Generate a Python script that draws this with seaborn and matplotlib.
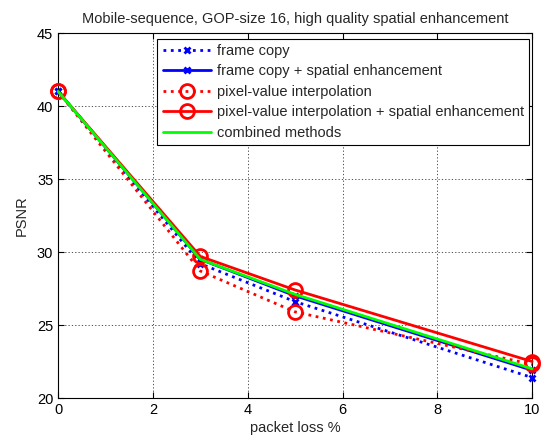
import numpy as np
import pandas as pd
import matplotlib
matplotlib.use('Agg')
import matplotlib.pyplot as plt
import seaborn as sns

sns.set_style('white')
plt.rcParams['font.family'] = ['Liberation Sans', 'DejaVu Sans']

# packet loss levels
packet_loss = [0, 3, 5, 10]

# PSNR per method
frame_copy = [41.0, 29.2, 26.6, 21.4]
frame_copy_se = [41.0, 29.5, 27.0, 21.9]
pixel_interp = [41.0, 28.7, 25.9, 22.3]
pixel_interp_se = [41.0, 29.7, 27.4, 22.5]
combined = [41.0, 29.5, 27.1, 22.0]

labels = ['frame copy', 'frame copy + spatial enhancement',
          'pixel-value interpolation',
          'pixel-value interpolation + spatial enhancement',
          'combined methods']
series = [frame_copy, frame_copy_se, pixel_interp, pixel_interp_se, combined]
styles = [
    dict(color='#0000ff', linestyle=':', marker='x', markersize=5, mew=2),
    dict(color='#0000ff', linestyle='-', marker='x', markersize=5, mew=2),
    dict(color='#ff0000', linestyle=':', marker='o', markersize=10, mew=2,
         markerfacecolor='none'),
    dict(color='#ff0000', linestyle='-', marker='o', markersize=10, mew=2,
         markerfacecolor='none'),
    dict(color='#00ff00', linestyle='-'),
]

fig = plt.figure(figsize=(5.48, 4.41), dpi=100)
ax = fig.add_axes([0.106, 0.0975, 0.865, 0.8275])

for lab, vals, st in zip(labels, series, styles):
    df = pd.DataFrame({'loss': packet_loss, 'psnr': vals})
    sns.lineplot(data=df, x='loss', y='psnr', ax=ax, label=lab,
                 linewidth=2, markeredgecolor=st['color'], clip_on=False,
                 zorder=3, **st)

ax.set_xlim(0, 10)
ax.set_ylim(20, 45)
ax.set_xticks([0, 2, 4, 6, 8, 10])
ax.set_yticks([20, 25, 30, 35, 40, 45])
ax.grid(True, color='#333333', linestyle=(0, (1.5, 2.5)), linewidth=0.6)
for s in ax.spines.values():
    s.set_color('black')
    s.set_linewidth(0.8)
ax.tick_params(direction='in', length=4, labelsize=10.5, colors='black',
               top=True, right=True, bottom=True, left=True)
ax.set_xlabel('packet loss %', fontsize=10.5, labelpad=3)
ax.set_ylabel('PSNR', fontsize=10.5, labelpad=6)
ax.set_title('Mobile-sequence, GOP-size 16, high quality spatial enhancement',
             fontsize=10.5, pad=7)

leg = ax.legend(loc='upper right', fontsize=10.5, frameon=True, fancybox=False,
                edgecolor='black', bbox_to_anchor=(0.993, 0.985),
                borderaxespad=0, handlelength=3.3, handletextpad=0.4,
                labelspacing=0.45, borderpad=0.35, framealpha=1)
leg.get_frame().set_linewidth(0.8)

fig.savefig('out.png', dpi=100)
